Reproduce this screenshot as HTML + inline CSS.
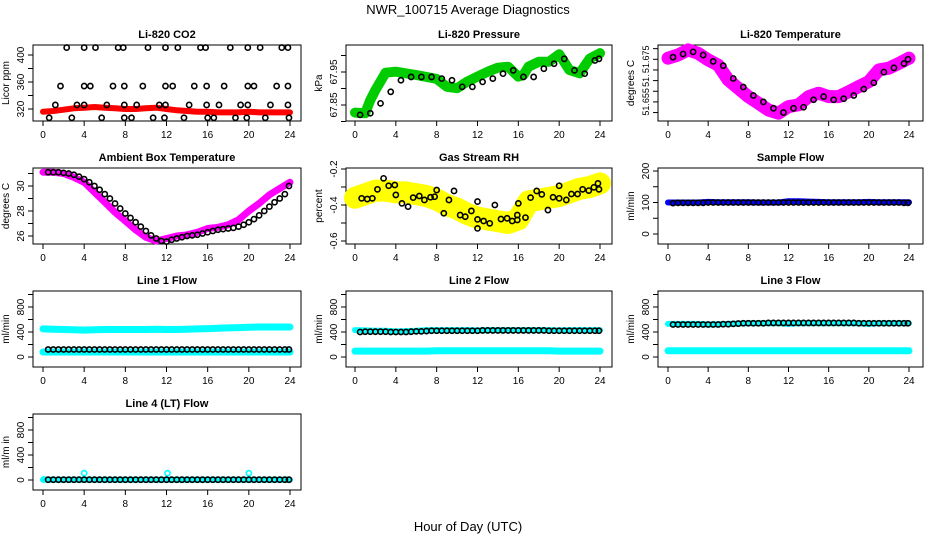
<!DOCTYPE html>
<html><head><meta charset="utf-8"><style>
html,body{margin:0;padding:0;background:#fff;}
svg{display:block;font-family:"Liberation Sans",sans-serif;}
</style></head><body>
<svg id="chart" width="936" height="540" viewBox="0 0 936 540" xmlns="http://www.w3.org/2000/svg">
<text x="468" y="14" text-anchor="middle" font-size="13">NWR_100715  Average Diagnostics</text>
<text x="468" y="531" text-anchor="middle" font-size="13">Hour of Day (UTC)</text>
</svg>
<script>
// ---- data ----
const xTicks = [0,4,8,12,16,20,24];
const hourBand = [0,1,2,3,4,5,6,7,8,9,10,11,12,13,14,15,16,17,18,19,20,21,22,23,24];
const hourPts = [0.5,1.5,2.5,3.5,4.5,5.5,6.5,7.5,8.5,9.5,10.5,11.5,12.5,13.5,14.5,15.5,16.5,17.5,18.5,19.5,20.5,21.5,22.5,23.5,23.9];
const hourHalf = [0.5,1,1.5,2,2.5,3,3.5,4,4.5,5,5.5,6,6.5,7,7.5,8,8.5,9,9.5,10,10.5,11,11.5,12,12.5,13,13.5,14,14.5,15,15.5,16,16.5,17,17.5,18,18.5,19,19.5,20,20.5,21,21.5,22,22.5,23,23.5,23.9];

const co2Band = [316,317,319,321,322,323,322,321,320,320,321,322,320,318,317,316,316,315,315,315,316,315,315,315,315];
const co2PtHours = [2.3,4.0,5.1,7.3,7.8,10.2,11.9,13.1,15.3,15.8,18.2,19.9,21.1,23.2,23.8, 1.7,4.0,4.6,6.8,7.9,9.7,11.9,12.6,14.7,15.9,17.6,19.9,20.5,22.7,23.8, 1.2,3.3,4.0,6.2,7.9,9.1,11.3,11.9,14.2,15.9,17.1,19.2,19.9,22.1,23.8, 0.6,2.8,5.7,7.9,8.6,10.7,11.8,13.7,16.0,16.6,18.7,19.8,21.6,23.9];
const co2PtValues = [411,411,411,411,411,411,411,411,411,411,411,411,411,411,411, 354,354,354,354,354,354,354,354,354,354,354,354,354,354,354, 326,326,326,326,326,326,326,326,326,326,326,326,326,326,326, 307,307,307,307,307,307,307,307,307,307,307,307,307,307];

const pressBandHours = [0,1,1.5,2,3,4,6,8,9,10,11,12,13,14,15,16,16.5,17,18,19,20,21,22,23,24];
const pressBand = [67.827,67.825,67.865,67.895,67.948,67.951,67.941,67.929,67.905,67.901,67.921,67.936,67.951,67.963,67.966,67.936,67.941,67.966,67.981,67.981,68.004,67.956,67.946,67.991,68.007];
const pressPts = [67.820,67.825,67.855,67.890,67.925,67.935,67.935,67.935,67.930,67.925,67.905,67.905,67.920,67.930,67.945,67.955,67.935,67.935,67.960,67.975,67.990,67.955,67.945,67.985,67.990];

const tempBand = [51.6755,51.6770,51.6794,51.6778,51.6747,51.6723,51.6653,51.6614,51.6575,51.6544,51.6512,51.6497,51.6528,51.6536,51.6575,51.6591,51.6575,51.6575,51.6598,51.6622,51.6645,51.6700,51.6708,51.6731,51.6755];
const tempPts = [51.6760,51.6775,51.6785,51.6770,51.6740,51.6720,51.6660,51.6620,51.6580,51.6550,51.6520,51.6500,51.6520,51.6525,51.6560,51.6575,51.6560,51.6565,51.6580,51.6610,51.6640,51.6690,51.6710,51.6730,51.6750];

const ambBand = [31.1,31.1,31.0,30.7,30.3,29.5,28.7,27.9,27.2,26.5,25.9,25.6,25.8,26.0,26.1,26.3,26.6,26.7,26.9,27.3,28.0,28.6,29.3,29.8,30.3];
const ambPts = [31.1,31.1,31.1,31.05,31.0,30.9,30.75,30.55,30.3,30.0,29.7,29.35,29.0,28.6,28.2,27.8,27.45,27.1,26.75,26.4,26.05,25.8,25.6,25.55,25.7,25.8,25.9,26.0,26.05,26.1,26.2,26.3,26.4,26.5,26.55,26.6,26.65,26.75,26.9,27.1,27.35,27.65,28.0,28.35,28.7,29.0,29.35,30.0];

const rhBand = [-0.36,-0.34,-0.32,-0.32,-0.33,-0.33,-0.34,-0.35,-0.37,-0.40,-0.42,-0.45,-0.47,-0.48,-0.49,-0.50,-0.48,-0.38,-0.37,-0.36,-0.35,-0.33,-0.31,-0.30,-0.28];
const rhPtHours = [0.65,1.2,1.7,2.2,2.8,3.3,3.9,4.0,4.6,5.2,5.7,6.3,6.8,7.4,7.8,8.0,8.7,9.2,9.7,10.3,10.8,11.4,12.0,12.0,12.0,12.6,13.2,13.7,14.3,14.9,15.4,15.9,15.9,16.0,16.7,17.2,17.8,18.3,18.9,19.4,20.0,20.0,20.7,21.2,21.8,22.3,22.9,23.4,23.8,23.9];
const rhPtValues = [-0.363,-0.367,-0.363,-0.313,-0.252,-0.293,-0.289,-0.344,-0.391,-0.409,-0.359,-0.350,-0.372,-0.357,-0.354,-0.317,-0.446,-0.372,-0.322,-0.456,-0.465,-0.433,-0.381,-0.480,-0.530,-0.489,-0.502,-0.400,-0.478,-0.474,-0.489,-0.483,-0.456,-0.391,-0.470,-0.359,-0.322,-0.341,-0.428,-0.357,-0.363,-0.293,-0.372,-0.339,-0.339,-0.313,-0.320,-0.302,-0.280,-0.313];

const sampleBand = [100,100,100,100,102,101,101,101,101,100,100,100,104,104,103,102,101,101,101,101,102,101,101,101,101];
const samplePts = [98,99,99,99,99,99,99,100,100,100,100,100,100,100,100,100,100,100,100,100,100,100,100,100,100,100,100,100,100,100,100,100,100,100,100,100,100,100,100,100,100,100,100,100,100,100,99,99];

const line1High = [450,445,440,435,430,435,440,440,440,440,440,445,440,440,445,450,455,460,465,470,475,480,480,480,480];
const line1Low = [80,80,80,80,80,80,80,80,80,80,80,80,80,80,80,80,80,80,80,80,80,80,80,80,80];
const line1Pts = [120,120,120,120,120,120,120,120,120,120,120,120,120,120,120,120,120,120,120,120,120,120,120,120,120,120,120,120,120,120,120,120,120,120,120,120,120,120,120,120,120,120,120,120,120,120,120,120];

const line2High = [430,425,420,420,410,415,420,430,430,430,430,430,425,430,430,430,430,430,430,430,425,430,430,430,430];
const line2Low = [95,95,95,95,95,95,95,95,100,100,100,100,100,100,100,100,100,100,100,100,95,95,95,95,95];
const line2Pts = [400,405,405,405,405,405,400,400,400,400,405,410,410,415,420,420,420,420,420,420,420,420,420,420,425,425,425,425,425,425,425,425,425,425,425,425,425,420,420,420,420,420,420,420,420,420,420,420];

const line3High = [530,530,530,530,520,525,530,535,540,540,540,540,530,540,540,540,540,540,540,540,530,540,540,540,540];
const line3Low = [100,100,100,100,100,100,100,100,100,100,100,100,100,100,100,100,100,100,100,100,100,100,100,100,100];
const line3Pts = [520,520,520,520,520,520,520,520,520,520,525,525,530,535,540,540,540,540,540,545,545,545,545,545,545,545,545,545,545,545,545,545,545,545,545,545,545,540,540,540,540,540,540,540,540,540,540,540];

const line4Band = [5,5,5,5,5,5,5,5,5,5,5,5,5,5,5,5,5,5,5,5,5,5,5,5,5];
const line4OutHours = [0.1,4.0,12.1,20.0];
const line4OutValues = [10,110,110,110];
const line4Pts = [5,5,5,5,5,5,5,5,5,5,5,5,5,5,5,5,5,5,5,5,5,5,5,5,5,5,5,5,5,5,5,5,5,5,5,5,5,5,5,5,5,5,5,5,5,5,5,5];

// ---- layout ----
const NS = "http://www.w3.org/2000/svg";
const svg = document.getElementById('chart');
const cols = [{l:33,r:301,x0:43,x24:290},{l:346,r:612,x0:355,x24:600},{l:658,r:923,x0:668,x24:909}];
const rowTops = [45,168,291,414];
const BOXH = 76;

function el(tag, attrs, parent){
  const e = document.createElementNS(NS, tag);
  for (const k in attrs) e.setAttribute(k, attrs[k]);
  (parent||svg).appendChild(e);
  return e;
}

function makePanel(cfg){
  const c = cols[cfg.col], top = rowTops[cfg.row], bot = top + BOXH;
  const g = el('g', {});
  
  
  const xs = h => c.x0 + (c.x24 - c.x0) * h / 24;
  const ys = v => cfg.yA + (cfg.yB - cfg.yA) * (v - cfg.vA) / (cfg.vB - cfg.vA);
  const Y = v => top + ys(v);
  const box = el('rect', {x:c.l, y:top, width:c.r-c.l, height:BOXH, fill:'none', stroke:'#000', 'stroke-width':1}, g);
  
  
  const t = el('text', {x:(c.l+c.r)/2, y:top-7, 'text-anchor':'middle', 'font-size':11, 'font-weight':'bold'}, g);
  t.textContent = cfg.title;
  
  
  const xa = el('g', {}, g);
  
  
  el('line', {x1:xs(0), x2:xs(24), y1:bot, y2:bot, stroke:'#000'}, xa);
  xTicks.forEach(h => {
    el('line', {x1:xs(h), x2:xs(h), y1:bot, y2:bot+5, stroke:'#000'}, xa);
    const tl = el('text', {x:xs(h), y:bot+17, 'text-anchor':'middle', 'font-size':10}, xa);
    tl.textContent = h;
    
    
  });
  const yaG = el('g', {}, g);
  
  
  el('line', {x1:c.l, x2:c.l, y1:Y(cfg.ticks[0]), y2:Y(cfg.ticks[cfg.ticks.length-1]), stroke:'#000'}, yaG);
  cfg.ticks.forEach(v => el('line', {x1:c.l-5, x2:c.l, y1:Y(v), y2:Y(v), stroke:'#000'}, yaG));
  cfg.labels.forEach((v,i) => {
    const yy = Y(v);
    const tl = el('text', {x:c.l-9, y:yy, 'text-anchor':'middle', 'font-size':cfg.lfs||10, transform:`rotate(-90 ${c.l-9} ${yy})`}, yaG);
    tl.textContent = cfg.labelText[i];
    
    
  });
  const yt = el('text', {x:c.l-24, y:top+BOXH/2, 'text-anchor':'middle', 'font-size':10, transform:`rotate(-90 ${c.l-24} ${top+BOXH/2})`}, g);
  yt.textContent = cfg.ytitle;
  
  
  const clip = el('g', {}, g);
  
  
  return {g: clip, xs, Y};
}

function band(p, hrs, vals, color, w, name){
  const pts = hrs.map((h,i) => p.xs(h).toFixed(1) + ',' + p.Y(vals[i]).toFixed(1)).join(' ');
  const pl = el('polyline', {points:pts, fill:'none', stroke:color, 'stroke-width':w, 'stroke-linejoin':'round', 'stroke-linecap':'round'}, p.g);
  
  
}
function circles(p, hrs, vals, color, name, r){
  hrs.forEach((h,i) => {
    const cc = el('circle', {cx:p.xs(h), cy:p.Y(vals[i]), r:r||2.6, fill:'none', stroke:color, 'stroke-width':1.6}, p.g);
    
    
  });
}

let p = makePanel({name:'co2', title:'Li-820 CO2', ytitle:'Licor ppm', col:0, row:0, vA:400, vB:320, yA:10, yB:64, ticks:[320,340,360,380,400], labels:[320,360,400], labelText:['320','360','400']});
band(p, hourBand, co2Band, '#ff0000', 6, 'co2-band');
circles(p, co2PtHours, co2PtValues, '#000', 'co2-point');

p = makePanel({name:'pressure', title:'Li-820 Pressure', ytitle:'kPa', col:1, row:0, vA:67.95, vB:67.85, yA:27, yB:60, ticks:[67.80,67.85,67.90,67.95,68.00], labels:[67.85,67.95], labelText:['67.85','67.95']});
band(p, pressBandHours, pressBand, '#00cc00', 10, 'pressure-band');
circles(p, hourPts, pressPts, '#000', 'pressure-point');

p = makePanel({name:'temperature', title:'Li-820 Temperature', ytitle:'degrees C', col:2, row:0, vA:51.675, vB:51.665, yA:14.3, yB:35.6, ticks:[51.65,51.655,51.66,51.665,51.67,51.675,51.68], labels:[51.655,51.665,51.675], labelText:['51.655','51.','51.675'], lfs:9});
band(p, hourBand, tempBand, '#ff00ff', 13, 'temperature-band');
circles(p, hourPts, tempPts, '#000', 'temperature-point');

p = makePanel({name:'ambient', title:'Ambient Box Temperature', ytitle:'degrees C', col:0, row:1, vA:30, vB:26, yA:18, yB:68, ticks:[26,27,28,29,30,31], labels:[26,28,30], labelText:['26','28','30']});
band(p, hourBand, ambBand, '#ff00ff', 7, 'ambient-band');
circles(p, hourHalf, ambPts, '#000', 'ambient-point');

p = makePanel({name:'rh', title:'Gas Stream RH', ytitle:'percent', col:1, row:1, vA:-0.2, vB:-0.6, yA:1, yB:73, ticks:[-0.6,-0.5,-0.4,-0.3,-0.2], labels:[-0.6,-0.4,-0.2], labelText:['-0.6','-0.4','-0.2']});
band(p, hourBand, rhBand, '#ffff00', 22, 'rh-band');
circles(p, rhPtHours, rhPtValues, '#000', 'rh-point');

p = makePanel({name:'sample-flow', title:'Sample Flow', ytitle:'ml/min', col:2, row:1, vA:200, vB:0, yA:3, yB:66, ticks:[0,50,100,150,200], labels:[0,100,200], labelText:['0','100','200']});
band(p, hourBand, sampleBand, '#0000ff', 6, 'sample-flow-band');
circles(p, hourHalf, samplePts, '#000', 'sample-flow-point');

const flowCfg = {vA:800, vB:0, yA:16, yB:66, ticks:[0,200,400,600,800,1000], labels:[0,400,800], labelText:['0','400','800'], ytitle:'ml/min'};

p = makePanel(Object.assign({name:'line1-flow', title:'Line 1 Flow', col:0, row:2}, flowCfg));
band(p, hourBand, line1High, '#00ffff', 7, 'line1-flow-high-band');
band(p, hourBand, line1Low, '#00ffff', 7, 'line1-flow-low-band');
circles(p, hourHalf, line1Pts, '#000', 'line1-flow-point');

p = makePanel(Object.assign({name:'line2-flow', title:'Line 2 Flow', col:1, row:2}, flowCfg));
band(p, hourBand, line2High, '#00ffff', 6, 'line2-flow-high-band');
band(p, hourBand, line2Low, '#00ffff', 7, 'line2-flow-low-band');
circles(p, hourHalf, line2Pts, '#000', 'line2-flow-point');

p = makePanel(Object.assign({name:'line3-flow', title:'Line 3 Flow', col:2, row:2}, flowCfg));
band(p, hourBand, line3High, '#00ffff', 6, 'line3-flow-high-band');
band(p, hourBand, line3Low, '#00ffff', 7, 'line3-flow-low-band');
circles(p, hourHalf, line3Pts, '#000', 'line3-flow-point');

p = makePanel(Object.assign({name:'line4-flow', title:'Line 4 (LT) Flow', col:0, row:3}, flowCfg, {ytitle:'ml/m in'}));
band(p, hourBand, line4Band, '#00ffff', 6, 'line4-flow-band');
circles(p, line4OutHours, line4OutValues, '#00ffff', 'line4-flow-outlier');
circles(p, hourHalf, line4Pts, '#000', 'line4-flow-point');
</script>
</body></html>
